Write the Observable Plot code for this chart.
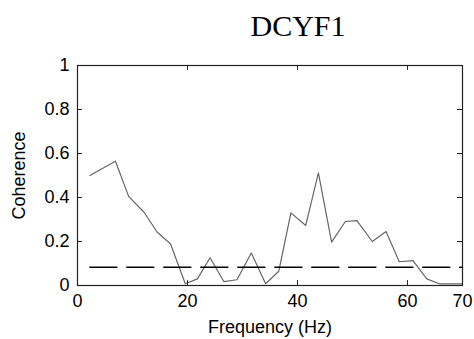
<!DOCTYPE html>
<html>
<head>
<meta charset="utf-8">
<script src="https://cdn.jsdelivr.net/npm/d3@7"></script>
<script src="https://cdn.jsdelivr.net/npm/@observablehq/plot@0.6"></script>
<style>
  html, body { margin: 0; padding: 0; background: #fff; }
  #wrap { width: 474px; }
  #title { position: relative; height: 50px; width: 474px; }
  #title span { position: absolute; left: 298px; top: 11px; transform: translateX(-50%);
    font-family: "Liberation Serif", "Times New Roman", serif; font-size: 30px; line-height: 1; color: #000; white-space: nowrap; }
</style>
</head>
<body>
<div id="wrap">
  <div id="title"><span>DCYF1</span></div>
  <div id="chart"></div>
</div>
<script>
const titleText = "DCYF1";
const xLabel = "Frequency (Hz)";
const yLabel = "Coherence";
const frequency = [2.24, 6.9, 9.3, 12.1, 14.5, 16.9, 19.6, 21.8, 24.1, 26.6, 29.0, 31.6, 34.2, 36.6, 38.8, 41.5, 43.8, 46.2, 48.7, 50.8, 53.6, 56.1, 58.5, 61.0, 63.5, 65.9, 68.4, 70.8];
const coherence = [0.50, 0.565, 0.405, 0.333, 0.242, 0.19, 0.008, 0.03, 0.126, 0.018, 0.026, 0.148, 0.008, 0.065, 0.33, 0.273, 0.512, 0.197, 0.291, 0.295, 0.2, 0.245, 0.108, 0.113, 0.03, 0.007, 0.007, 0.007];
const threshold = 0.083;
const thresholdRange = [2.24, 70];
const xTicks = [0, 20, 40, 60, 70];
const xInnerTicks = [20, 40, 60];
const yTicks = [0, 0.2, 0.4, 0.6, 0.8, 1];
const yInnerTicks = [0.2, 0.4, 0.6, 0.8];

const data = frequency.map((f, i) => ({f, c: coherence[i]}));
const thr = thresholdRange.map(f => ({f, c: threshold}));

const tickLenY = 0.022;  // inward tick length in y units
const tickLenX = 0.9;    // inward tick length in x units

const chart = Plot.plot({
  width: 474,
  height: 289,
  marginTop: 15,
  marginBottom: 54,
  marginLeft: 77,
  marginRight: 12,
  style: {fontFamily: "'Liberation Sans', Arial, sans-serif", fontSize: "18px", color: "#000", background: "#fff"},
  x: {domain: [0, 70]},
  y: {domain: [0, 1]},
  marks: [
    Plot.line(data, {x: "f", y: "c", stroke: "#666", strokeWidth: 1.2, clip: true}),
    Plot.line(thr, {x: "f", y: "c", stroke: "#000", strokeWidth: 1.6, strokeDasharray: "27,10"}),
    Plot.ruleX(xInnerTicks, {x: d => d, y1: 0, y2: tickLenY, stroke: "#222"}),
    Plot.ruleX(xInnerTicks, {x: d => d, y1: 1, y2: 1 - tickLenY, stroke: "#222"}),
    Plot.ruleY(yInnerTicks, {y: d => d, x1: 0, x2: tickLenX, stroke: "#222"}),
    Plot.ruleY(yInnerTicks, {y: d => d, x1: 70, x2: 70 - tickLenX, stroke: "#222"}),
    Plot.frame({stroke: "#222", strokeWidth: 1.2}),
    Plot.axisX({ticks: xTicks, tickSize: 0, tickPadding: 9, tickFormat: d => String(d),
      label: xLabel, labelAnchor: "center", labelOffset: 47, labelArrow: false}),
    Plot.axisY({ticks: yTicks, tickSize: 0, tickPadding: 8, tickFormat: d => String(d),
      label: yLabel, labelAnchor: "center", labelOffset: 65, labelArrow: false})
  ]
});
document.getElementById("chart").appendChild(chart);
</script>
</body>
</html>
